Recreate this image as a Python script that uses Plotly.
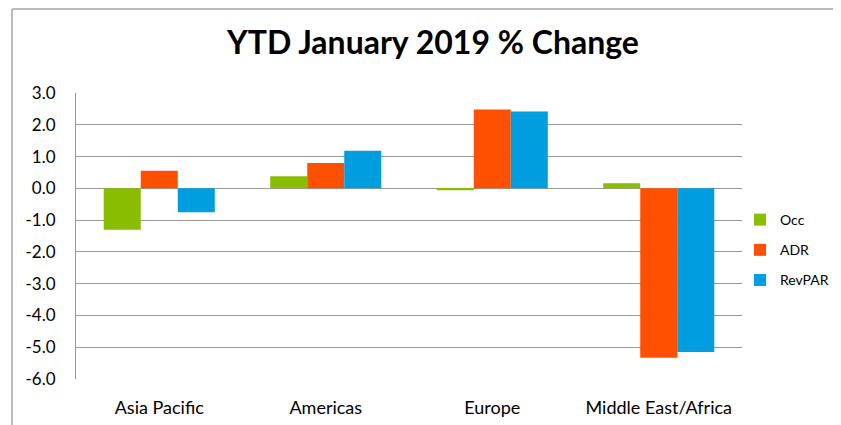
import plotly.graph_objects as go

categories = ["Asia Pacific", "Americas", "Europe", "Middle East/Africa"]
occ = [-1.3, 0.38, -0.06, 0.16]
adr = [0.55, 0.8, 2.48, -5.33]
revpar = [-0.75, 1.18, 2.42, -5.15]
series_names = ["Occ", "ADR", "RevPAR"]
colors = ["#88BD00", "#FF5000", "#009EDF"]
tick_vals = [3, 2, 1, 0, -1, -2, -3, -4, -5, -6]
tick_text = ["3.0", "2.0", "1.0", "0.0", "-1.0", "-2.0", "-3.0", "-4.0", "-5.0", "-6.0"]

font_family = "Lato, Open Sans, sans-serif"
grid_col = "#999999"

# The page body adds an 8px margin, so the figure is placed at (8, 8) in the window.
OFF = 8
W, H = 841 - OFF, 425 - OFF
# plot area in window pixels
PL, PR, PT, PB = 76, 742, 93, 379
L, R, T, B = PL - OFF, W - (PR - OFF), PT - OFF, H - (PB - OFF)
PW, PH = W - L - R, H - T - B


def px_x(x):
    return (x - OFF - L) / PW


def px_y(y):
    return (PB - y) / PH


fig = go.Figure()
for name, vals, col in zip(series_names, [occ, adr, revpar], colors):
    fig.add_trace(go.Bar(x=categories, y=vals, name=name, legendgroup=name,
                         marker=dict(color=col, line=dict(width=0))))

fig.update_layout(
    width=W, height=H,
    margin=dict(l=L, r=R, t=T, b=B, autoexpand=False),
    paper_bgcolor="white", plot_bgcolor="white",
    barmode="group", bargap=0.333, bargroupgap=0,
    title=dict(text="<b>YTD January 2019 % Change</b>", x=(433 - OFF) / W, xanchor="center",
               y=1 - (43 - OFF) / H, yanchor="middle",
               font=dict(family=font_family, size=32, color="black")),
    font=dict(family=font_family, size=14, color="black"),
    legend=dict(x=px_x(740), xanchor="left", y=px_y(250), yanchor="middle",
                font=dict(size=14), itemwidth=30, tracegroupgap=9,
                bgcolor="rgba(0,0,0,0)"),
    xaxis=dict(showgrid=False, showline=False, ticks="outside", ticklen=12,
               tickcolor="rgba(0,0,0,0)", tickfont=dict(size=18), automargin=False),
    yaxis=dict(range=[-6, 3], tickvals=tick_vals, ticktext=tick_text,
               showgrid=True, gridcolor=grid_col, gridwidth=1,
               zeroline=True, zerolinecolor=grid_col, zerolinewidth=1,
               showline=True, linecolor=grid_col, linewidth=1,
               ticks="outside", ticklen=16, tickcolor="rgba(0,0,0,0)",
               tickfont=dict(size=17), automargin=False),
    shapes=[
        dict(type="line", xref="paper", yref="paper",
             x0=px_x(12), x1=px_x(12), y0=px_y(9), y1=px_y(430),
             line=dict(color="#A6A6A6", width=1.5)),
        dict(type="line", xref="paper", yref="paper",
             x0=px_x(12), x1=px_x(850), y0=px_y(9), y1=px_y(9),
             line=dict(color="#A6A6A6", width=1.5)),
    ],
)

fig.write_html("out.html")
